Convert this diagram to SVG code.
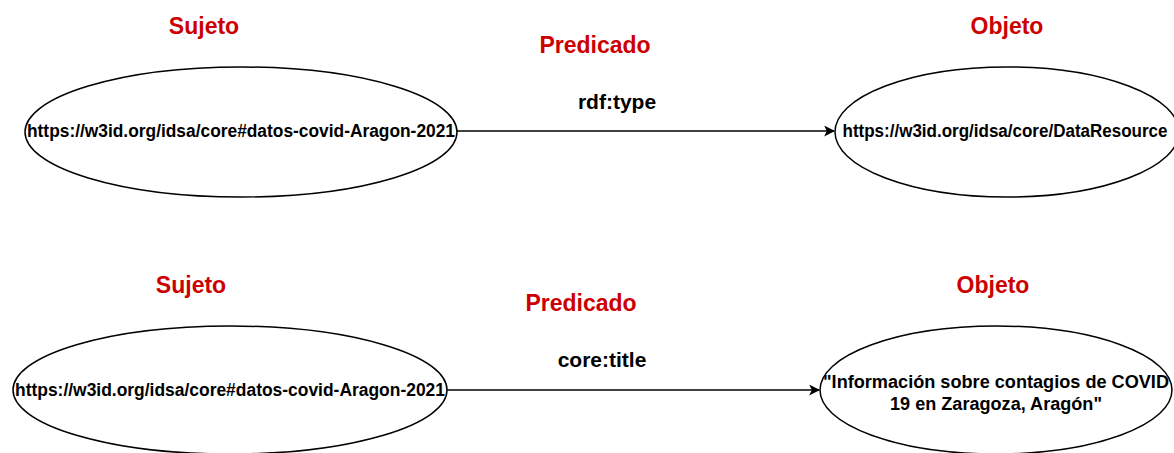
<svg xmlns="http://www.w3.org/2000/svg" width="1174" height="453" viewBox="0 0 1174 453">
<style>
.node{fill:#fff;stroke:#000;stroke-width:1.5}
.t{font-family:"Liberation Sans",Arial,sans-serif;font-weight:bold;fill:#000;text-anchor:middle}
.nt{font-size:18px}
.lbl{font-family:"Liberation Sans",Arial,sans-serif;font-weight:bold;fill:#CC0000;text-anchor:middle;font-size:23px}
.pred{font-size:21px}
.edge{stroke:#000;stroke-width:1.5;fill:none}
</style>
<defs>
<marker id="arr" viewBox="0 0 10 10" refX="9" refY="5" markerWidth="11" markerHeight="11" markerUnits="userSpaceOnUse" orient="auto">
<path d="M0,0 L10,5 L0,10 L2.5,5 Z" fill="#000"/>
</marker>
</defs>
<g id="labels">
<text class="lbl" x="204" y="34">Sujeto</text>
<text class="lbl" x="595" y="53">Predicado</text>
<text class="lbl" x="1007" y="34">Objeto</text>
<text class="lbl" x="191" y="293">Sujeto</text>
<text class="lbl" x="581" y="311">Predicado</text>
<text class="lbl" x="993" y="293">Objeto</text>
</g>
<g id="connectors">
<g id="edge1">
<line class="edge" x1="457" y1="131" x2="834" y2="131" marker-end="url(#arr)"/>
<text class="t pred" x="617" y="109">rdf:type</text>
</g>
<g id="edge2">
<line class="edge" x1="447" y1="390" x2="819" y2="390" marker-end="url(#arr)"/>
<text class="t pred" x="602" y="367">core:title</text>
</g>
</g>
<g id="node-s1">
<ellipse class="node" cx="241" cy="132" rx="216" ry="65"/>
<text class="t nt" x="241" y="137" textLength="428" lengthAdjust="spacingAndGlyphs">https://w3id.org/idsa/core#datos-covid-Aragon-2021</text>
</g>
<g id="node-o1">
<ellipse class="node" cx="1007" cy="132" rx="172" ry="65"/>
<text class="t nt" x="1005" y="137" textLength="325" lengthAdjust="spacingAndGlyphs">https://w3id.org/idsa/core/DataResource</text>
</g>
<g id="node-s2">
<ellipse class="node" cx="230" cy="390" rx="217" ry="64"/>
<text class="t nt" x="230" y="396" textLength="430" lengthAdjust="spacingAndGlyphs">https://w3id.org/idsa/core#datos-covid-Aragon-2021</text>
</g>
<g id="node-o2">
<ellipse class="node" cx="996" cy="390" rx="176" ry="64"/>
<text class="t nt" x="996" y="388" textLength="346" lengthAdjust="spacingAndGlyphs">"Información sobre contagios de COVID</text>
<text class="t nt" x="996" y="410" textLength="212" lengthAdjust="spacingAndGlyphs">19 en Zaragoza, Aragón"</text>
</g>
</svg>
